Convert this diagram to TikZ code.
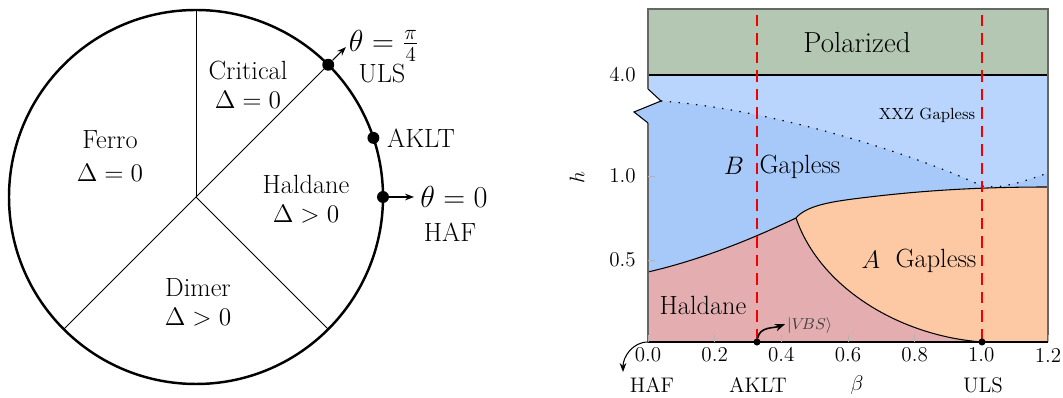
\documentclass[tikz,border=0pt]{standalone}
\usepackage{amsmath}
\usepackage{amssymb}
\usepackage{xcolor}
\usepackage{tikz}
\usetikzlibrary{arrows.meta, positioning, calc}
\definecolor{polgreen}{RGB}{179,199,179}
\definecolor{xxzblue}{RGB}{185,213,253}
\definecolor{gapblue}{RGB}{166,201,250}
\definecolor{haldpink}{RGB}{228,174,176}
\definecolor{gaporange}{RGB}{253,201,164}

\begin{document}
\begin{tikzpicture}[
        x=0.02cm, y=0.02cm,
        phase/.style={font=\fontsize{15}{16.5}\selectfont, align=center},
        pname/.style={font=\fontsize{15}{16.5}\selectfont},
        thlbl/.style={font=\fontsize{16.5}{18}\selectfont},
        ticklbl/.style={font=\fontsize{12}{13}\selectfont},
        tinylbl/.style={font=\fontsize{9}{10}\selectfont},
        dot/.style={circle, fill=black, inner sep=0pt, minimum size=6.8pt},
        pdot/.style={circle, fill=black, inner sep=0pt, minimum size=4pt},
        arr/.style={-{Stealth[length=1.8mm]}, semithick},
        bound/.style={draw=black, line width=0.6pt},
        crit/.style={red!95!black, line width=1.7pt, dash pattern=on 6.5pt off 4pt},
    ]
        \useasboundingbox (0,0) rectangle (1063,398);

        % Left: phase circle of the bilinear-biquadratic chain
        \coordinate (o) at (196,201);
        \draw[line width=1.4pt] (o) circle[radius=187];
        \draw[line width=0.5pt] (o) -- ++(90:187);
        \draw[line width=0.5pt] (o) -- ++(45:187);
        \draw[line width=0.5pt] (o) -- ++(225:187);
        \draw[line width=0.5pt] (o) -- ++(-45:187);

        % special points on the circle
        \node[dot] (uls)  at ($(o)+(45:187)$) {};
        \node[dot] (aklt) at ($(o)+(18.43:187)$) {};
        \node[dot] (haf)  at ($(o)+(0:187)$) {};
        \coordinate (ulsTip) at ($(uls)+(45:25)$);
        \coordinate (hafTip) at ($(haf)+(31,0)$);
        \draw[arr] (uls) -- (ulsTip);
        \draw[arr] (haf) -- (hafTip);

        \node[thlbl] (thULS) at (384,352) {$\theta=\frac{\pi}{4}$};
        \node[pname] (ulsLbl) at (382,324) {ULS};
        \node[pname] (akltLbl) at (421,260) {AKLT};
        \node[thlbl] (thHAF) at (454,201) {$\theta=0$};
        \node[pname] (hafLbl) at (450,166) {HAF};

        % phases
        \node[phase] (critical) at (248,313) {Critical\\$\Delta=0$};
        \node[phase] (ferro)    at (110,242) {Ferro\\[2pt]$\Delta=0$};
        \node[phase] (haldL)    at (306,199) {Haldane\\$\Delta>0$};
        \node[phase] (dimer)    at (198,96)  {Dimer\\$\Delta>0$};

        % Right: (beta, h) phase diagram
        \fill[polgreen] (648,323) rectangle (1048,389);
        \fill[xxzblue] (648,56) -- (648,275) -- (634,286) -- (661,297) -- (648,309)
            -- (648,323) -- (1048,323) -- (1048,56) -- cycle;
        \fill[gapblue] (648,56) -- (648,275) -- (634,286) -- (661,297)
            .. controls (760,290) and (900,250) .. (982,212)
            .. controls (1000,209) and (1020,215) .. (1048,225)
            -- (1048,56) -- cycle;
        \fill[haldpink] (648,56) -- (648,126)
            .. controls (700,138) and (750,158) .. (796,180)
            .. controls (820,110) and (900,62) .. (982,56)
            -- cycle;
        \fill[gaporange] (796,180)
            .. controls (806,192) and (830,196) .. (853,199)
            .. controls (900,205) and (960,211) .. (1048,211)
            -- (1048,56) -- (982,56)
            .. controls (900,62) and (820,110) .. (796,180)
            -- cycle;

        % phase boundaries
        \draw[bound] (648,323) -- (1048,323);
        \draw[bound] (648,126) .. controls (700,138) and (750,158) .. (796,180);
        \draw[bound] (796,180) .. controls (806,192) and (830,196) .. (853,199)
            .. controls (900,205) and (960,211) .. (1048,211);
        \draw[bound] (796,180) .. controls (820,110) and (900,62) .. (982,56);
        \draw[line width=0.7pt, dash pattern=on 0.8pt off 4.2pt]
            (661,297) .. controls (760,290) and (900,250) .. (982,212)
            .. controls (1000,209) and (1020,215) .. (1048,225);

        % frame with broken h axis
        \draw[gray!80!black, line width=0.8pt] (648,56) -- (648,275);
        \draw[line width=0.6pt] (648,275) -- (634,286) -- (661,297) -- (648,309);
        \draw[gray!80!black, line width=0.8pt] (648,309) -- (648,389) -- (1048,389) -- (1048,56);
        \draw[line width=0.8pt] (648,56) -- (1048,56);

        % ticks
        \foreach \k/\lab in {0/0.0, 1/0.2, 2/0.4, 3/0.6, 4/0.8, 5/1.0, 6/1.2} {
            \draw[gray!60, line width=0.4pt] (648+66.67*\k,56) -- ++(0,7);
            \node[ticklbl] (xt\k) at (648+66.67*\k,43) {\lab};
        }
        \draw[gray!60, line width=0.4pt] (648,138) -- ++(7,0);
        \draw[gray!60, line width=0.4pt] (648,222) -- ++(7,0);
        \node[ticklbl, anchor=east] (yt05) at (642,138) {0.5};
        \node[ticklbl, anchor=east] (yt10) at (642,222) {1.0};
        \node[ticklbl, anchor=east] (yt40) at (642,323) {4.0};
        \node[ticklbl, rotate=90] (hLbl) at (577,220) {$h$};

        % AKLT and ULS lines
        \draw[crit] (757,383) -- (757,56);
        \draw[crit] (982,383) -- (982,56);
        \node[pdot] (akltPt) at (757,56) {};
        \node[pdot] (ulsPt)  at (982,56) {};

        % region labels
        \node[font=\fontsize{16.5}{18}\selectfont] (polar) at (857,355) {Polarized};
        \node[font=\fontsize{9.2}{10}\selectfont] (xxz) at (927,283) {XXZ Gapless};
        \node[pname] (bLetter) at (734,232) {$B$};
        \node[pname] (bGap) at (800,231) {Gapless};
        \node[pname] (aLetter) at (871,138) {$A$};
        \node[pname] (aGap) at (936,137) {Gapless};
        \node[pname] (haldR) at (703,93) {Haldane};

        % VBS pointer and HAF hook
        \node[tinylbl, anchor=west, inner sep=1pt, text=black!75] (vbs) at (785,72) {$|V\!BS\rangle$};
        \draw[-{Stealth[length=2mm]}, line width=0.9pt] (akltPt) to[out=80, in=200] ([yshift=1pt]vbs.west);
        \coordinate (hafHook) at (623,26);
        \draw[arr] (648,56) to[out=180, in=90] (hafHook);

        % x axis labels
        \node[ticklbl] (hafX)  at (652,13) {HAF};
        \node[ticklbl] (akltX) at (758,13) {AKLT};
        \node[ticklbl] (betaX) at (857,13) {$\beta$};
        \node[ticklbl] (ulsX)  at (983,13) {ULS};
    \end{tikzpicture}
\end{document}
